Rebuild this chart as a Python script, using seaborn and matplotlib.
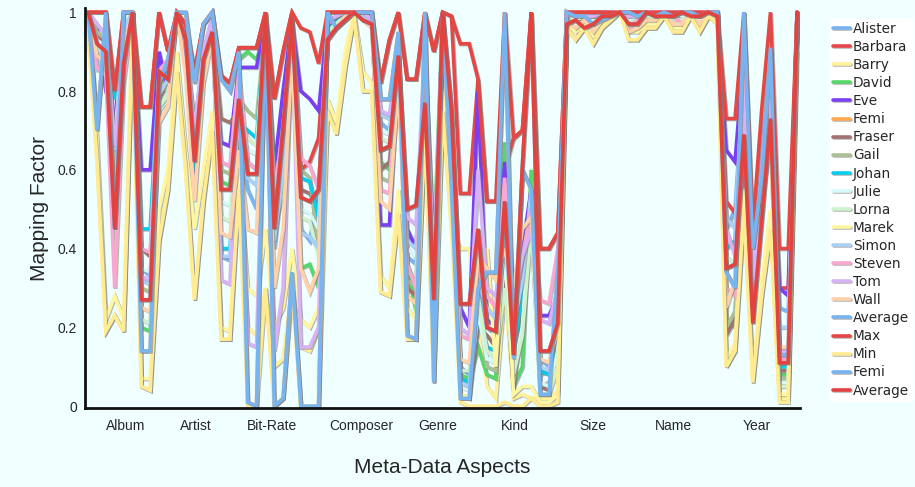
import matplotlib
matplotlib.use("Agg")
import matplotlib.pyplot as plt
import matplotlib.patheffects as pe
import numpy as np
import seaborn as sns

# groups of points along the x axis
aspects = ["Album", "Artist", "Bit-Rate", "Composer", "Genre", "Kind", "Size", "Name", "Year"]
aspect_ticks = [4.2, 12.2, 20.8, 30.8, 39.5, 48.2, 56.9, 66.1, 75.5]

# per person mapping factors (Album | Artist | Bit-Rate | Composer | Genre | Kind | Size | Name | Year)
alister = [1.0, 0.72, 0.98, 0.62, 0.95, 1.0, 0.35, 0.33, 0.80,
           0.85, 1.0, 0.90, 0.70, 0.90, 0.98, 0.38, 0.37,
           0.70, 0.55, 0.50, 0.95, 0.40, 0.60, 0.92, 0.45, 0.42, 0.55,
           0.95, 0.97, 0.99, 1.0, 0.99, 0.98, 0.72, 0.70, 0.90,
           0.38, 0.36, 0.92, 0.20, 0.98, 0.60, 0.10, 0.08,
           0.30, 0.20, 0.18, 0.40, 0.15, 0.35, 0.50, 0.12, 0.10, 0.25,
           0.99, 1.0, 0.99, 0.99, 1.0, 1.0, 1.0, 0.99, 1.0,
           1.0, 0.99, 1.0, 1.0, 0.99, 1.0, 1.0, 1.0, 1.0,
           0.45, 0.50, 0.85, 0.35, 0.60, 0.80, 0.25, 0.24, 1.0]
barbara = [1.0, 1.0, 1.0, 0.80, 1.0, 1.0, 0.76, 0.76, 1.0,
           0.90, 1.0, 0.97, 0.85, 0.97, 1.0, 0.84, 0.82,
           0.91, 0.91, 0.91, 1.0, 0.78, 0.90, 1.0, 0.60, 0.62, 0.68,
           1.0, 1.0, 1.0, 1.0, 1.0, 1.0, 0.82, 0.93, 1.0,
           0.83, 0.83, 1.0, 0.90, 1.0, 0.99, 0.54, 0.54,
           0.83, 0.52, 0.52, 0.60, 0.68, 0.70, 1.0, 0.40, 0.40, 0.44,
           1.0, 1.0, 1.0, 1.0, 1.0, 1.0, 1.0, 1.0, 1.0,
           1.0, 1.0, 1.0, 1.0, 1.0, 1.0, 1.0, 1.0, 1.0,
           0.52, 0.49, 0.62, 0.35, 0.60, 0.88, 0.30, 0.30, 1.0]
barry = [0.95, 0.62, 0.19, 0.23, 0.19, 0.95, 0.05, 0.04, 0.42,
         0.55, 0.85, 0.60, 0.27, 0.52, 0.70, 0.17, 0.17,
         0.55, 0.20, 0.18, 0.30, 0.10, 0.12, 0.30, 0.15, 0.14, 0.20,
         0.75, 0.69, 0.86, 0.99, 0.80, 0.80, 0.29, 0.28, 0.49,
         0.17, 0.17, 0.70, 0.10, 0.75, 0.45, 0.40, 0.40,
         0.25, 0.05, 0.02, 0.30, 0.02, 0.03, 0.02, 0.02, 0.02, 0.04,
         0.96, 0.93, 0.96, 0.92, 0.96, 0.98, 1.0, 0.93, 0.93,
         0.96, 0.96, 0.99, 0.95, 0.95, 0.99, 0.95, 0.99, 0.97,
         0.10, 0.14, 0.50, 0.06, 0.28, 0.45, 0.02, 0.02, 0.95]
david = [1.0, 0.90, 0.85, 0.60, 0.90, 1.0, 0.20, 0.19, 0.80,
         0.85, 1.0, 0.90, 0.58, 0.88, 0.95, 0.57, 0.56,
         0.88, 0.90, 0.88, 0.95, 0.55, 0.65, 0.90, 0.35, 0.36, 0.30,
         0.96, 0.98, 1.0, 1.0, 1.0, 0.99, 0.62, 0.60, 0.85,
         0.35, 0.24, 0.88, 0.40, 0.99, 0.70, 0.08, 0.07,
         0.15, 0.08, 0.07, 0.67, 0.05, 0.10, 0.60, 0.08, 0.09, 0.10,
         1.0, 0.99, 1.0, 0.99, 0.99, 1.0, 1.0, 0.99, 0.99,
         1.0, 1.0, 1.0, 0.99, 1.0, 1.0, 0.99, 1.0, 1.0,
         0.22, 0.20, 0.80, 0.30, 0.55, 0.75, 0.08, 0.08, 1.0]
eve = [1.0, 0.96, 0.80, 0.72, 0.95, 1.0, 0.60, 0.60, 0.90,
       0.80, 1.0, 0.92, 0.55, 0.85, 0.98, 0.67, 0.66,
       0.86, 0.86, 0.86, 0.98, 0.60, 0.80, 0.98, 0.80, 0.78, 0.75,
       0.97, 0.99, 1.0, 1.0, 1.0, 0.98, 0.46, 0.46, 0.88,
       0.45, 0.40, 0.85, 0.30, 0.99, 0.75, 0.25, 0.20,
       0.80, 0.22, 0.20, 0.62, 0.28, 0.40, 0.55, 0.23, 0.23, 0.28,
       1.0, 0.99, 0.98, 0.99, 0.99, 1.0, 1.0, 0.97, 0.98,
       0.99, 1.0, 1.0, 0.99, 1.0, 1.0, 1.0, 1.0, 0.99,
       0.65, 0.62, 0.90, 0.42, 0.70, 0.70, 0.30, 0.28, 1.0]
femi = [1.0, 0.70, 1.0, 0.45, 1.0, 1.0, 0.14, 0.14, 0.82,
        0.88, 1.0, 1.0, 0.82, 0.97, 1.0, 0.83, 0.80,
        0.90, 0.01, 0.0, 1.0, 0.0, 0.02, 0.34, 0.0, 0.0, 0.0,
        1.0, 0.96, 0.98, 1.0, 1.0, 1.0, 0.78, 0.78, 0.95,
        0.18, 0.17, 1.0, 0.06, 1.0, 0.55, 0.02, 0.02,
        0.30, 0.34, 0.34, 1.0, 0.12, 0.60, 0.55, 0.03, 0.03, 0.35,
        1.0, 0.99, 0.99, 0.97, 0.98, 0.99, 1.0, 1.0, 0.99,
        1.0, 0.99, 1.0, 0.99, 1.0, 1.0, 0.99, 1.0, 1.0,
        0.34, 0.30, 1.0, 0.40, 0.58, 0.91, 0.13, 0.13, 0.98]
fraser = [1.0, 0.94, 0.92, 0.55, 0.93, 1.0, 0.40, 0.38, 0.78,
          0.82, 1.0, 0.88, 0.66, 0.85, 0.97, 0.73, 0.72,
          0.75, 0.62, 0.60, 0.96, 0.50, 0.58, 0.94, 0.55, 0.54, 0.50,
          0.95, 0.97, 1.0, 1.0, 0.99, 0.97, 0.60, 0.62, 0.86,
          0.30, 0.28, 0.85, 0.25, 0.98, 0.62, 0.03, 0.02,
          0.20, 0.18, 0.15, 0.35, 0.04, 0.30, 0.45, 0.05, 0.04, 0.12,
          1.0, 0.98, 0.99, 0.98, 0.99, 1.0, 1.0, 0.98, 0.98,
          1.0, 0.99, 1.0, 0.99, 0.99, 1.0, 0.99, 1.0, 1.0,
          0.18, 0.22, 0.75, 0.30, 0.50, 0.72, 0.09, 0.09, 1.0]
gail = [1.0, 0.95, 0.93, 0.58, 0.90, 1.0, 0.30, 0.29, 0.82,
        0.80, 1.0, 0.86, 0.64, 0.86, 0.96, 0.60, 0.59,
        0.78, 0.75, 0.73, 0.97, 0.52, 0.62, 0.93, 0.60, 0.58, 0.40,
        0.96, 0.98, 1.0, 1.0, 0.99, 0.97, 0.58, 0.57, 0.85,
        0.32, 0.30, 0.86, 0.35, 0.98, 0.66, 0.06, 0.05,
        0.26, 0.10, 0.09, 0.45, 0.06, 0.20, 0.50, 0.05, 0.06, 0.15,
        0.99, 0.98, 0.99, 0.98, 0.99, 1.0, 1.0, 0.98, 0.99,
        0.99, 1.0, 1.0, 0.99, 0.99, 1.0, 1.0, 0.99, 1.0,
        0.20, 0.24, 0.70, 0.28, 0.52, 0.68, 0.07, 0.07, 1.0]
johan = [1.0, 0.88, 0.86, 0.78, 0.88, 1.0, 0.45, 0.45, 0.85,
         0.84, 1.0, 0.90, 0.60, 0.87, 0.96, 0.40, 0.40,
         0.72, 0.70, 0.68, 0.97, 0.58, 0.66, 0.95, 0.58, 0.57, 0.48,
         0.96, 0.98, 1.0, 1.0, 0.99, 0.96, 0.65, 0.66, 0.87,
         0.36, 0.30, 0.90, 0.28, 0.98, 0.68, 0.07, 0.06,
         0.22, 0.15, 0.14, 0.48, 0.13, 0.30, 0.48, 0.09, 0.08, 0.18,
         1.0, 0.99, 1.0, 0.99, 1.0, 1.0, 1.0, 0.99, 0.99,
         1.0, 1.0, 1.0, 1.0, 0.99, 1.0, 1.0, 1.0, 1.0,
         0.40, 0.42, 0.85, 0.32, 0.60, 0.78, 0.10, 0.10, 1.0]
julie = [1.0, 0.93, 0.91, 0.68, 0.94, 1.0, 0.35, 0.34, 0.75,
         0.78, 1.0, 0.85, 0.68, 0.84, 0.96, 0.52, 0.51,
         0.70, 0.65, 0.64, 0.96, 0.48, 0.62, 0.93, 0.50, 0.49, 0.45,
         0.95, 0.97, 0.99, 1.0, 0.98, 0.97, 0.70, 0.69, 0.86,
         0.40, 0.38, 0.88, 0.22, 0.97, 0.64, 0.05, 0.04,
         0.24, 0.12, 0.11, 0.38, 0.09, 0.20, 0.52, 0.06, 0.05, 0.14,
         0.99, 0.99, 1.0, 0.98, 0.99, 1.0, 1.0, 0.98, 0.99,
         1.0, 0.99, 1.0, 1.0, 0.99, 1.0, 1.0, 1.0, 1.0,
         0.28, 0.30, 0.72, 0.26, 0.54, 0.74, 0.06, 0.06, 1.0]
lorna = [1.0, 0.91, 0.88, 0.40, 0.89, 1.0, 0.22, 0.21, 0.76,
         0.79, 1.0, 0.86, 0.63, 0.85, 0.95, 0.48, 0.47,
         0.74, 0.68, 0.66, 0.96, 0.45, 0.55, 0.90, 0.48, 0.47, 0.38,
         0.95, 0.97, 0.99, 1.0, 0.98, 0.97, 0.68, 0.67, 0.84,
         0.34, 0.33, 0.84, 0.30, 0.97, 0.60, 0.09, 0.09,
         0.28, 0.14, 0.12, 0.30, 0.08, 0.18, 0.46, 0.03, 0.03, 0.10,
         0.99, 0.98, 0.99, 0.97, 0.99, 1.0, 1.0, 0.97, 0.98,
         0.99, 0.99, 1.0, 0.98, 0.98, 1.0, 0.99, 1.0, 0.99,
         0.38, 0.36, 0.78, 0.34, 0.58, 0.76, 0.05, 0.05, 1.0]
marek = [0.98, 0.68, 0.22, 0.28, 0.22, 0.98, 0.07, 0.07, 0.50,
         0.60, 0.90, 0.65, 0.45, 0.60, 0.75, 0.20, 0.19,
         0.60, 0.30, 0.28, 0.45, 0.20, 0.25, 0.40, 0.22, 0.20, 0.25,
         0.78, 0.72, 0.90, 1.0, 0.85, 0.82, 0.33, 0.30, 0.55,
         0.25, 0.22, 0.75, 0.15, 0.80, 0.55, 0.03, 0.02,
         0.35, 0.40, 0.10, 0.50, 0.03, 0.05, 0.05, 0.01, 0.01, 0.03,
         0.97, 0.95, 0.97, 0.94, 0.97, 0.99, 1.0, 0.95, 0.95,
         0.97, 0.97, 1.0, 0.96, 0.96, 1.0, 0.96, 1.0, 0.98,
         0.12, 0.16, 0.55, 0.08, 0.32, 0.50, 0.03, 0.03, 0.96]
simon = [1.0, 0.85, 0.95, 0.65, 0.96, 1.0, 0.32, 0.31, 0.79,
         0.83, 1.0, 0.89, 0.72, 0.88, 0.97, 0.38, 0.38,
         0.76, 0.58, 0.56, 0.97, 0.42, 0.60, 0.94, 0.44, 0.43, 0.40,
         0.97, 0.99, 1.0, 1.0, 0.99, 0.98, 0.74, 0.73, 0.88,
         0.42, 0.40, 0.90, 0.18, 0.99, 0.62, 0.06, 0.05,
         0.32, 0.25, 0.22, 0.42, 0.20, 0.32, 0.55, 0.10, 0.09, 0.22,
         1.0, 0.99, 1.0, 0.99, 1.0, 1.0, 1.0, 0.99, 1.0,
         1.0, 1.0, 1.0, 1.0, 1.0, 1.0, 1.0, 1.0, 1.0,
         0.48, 0.45, 0.88, 0.36, 0.62, 0.82, 0.20, 0.20, 1.0]
steven = [1.0, 0.86, 0.84, 0.30, 0.82, 1.0, 0.40, 0.39, 0.85,
          0.88, 1.0, 0.92, 0.62, 0.90, 0.98, 0.62, 0.61,
          0.85, 0.62, 0.60, 0.99, 0.55, 0.70, 0.97, 0.63, 0.61, 0.55,
          0.97, 0.99, 1.0, 1.0, 1.0, 0.98, 0.55, 0.54, 0.84,
          0.36, 0.30, 0.85, 0.32, 0.99, 0.68, 0.18, 0.17,
          0.35, 0.28, 0.25, 0.58, 0.24, 0.38, 0.50, 0.27, 0.26, 0.40,
          1.0, 0.99, 0.99, 0.99, 0.99, 1.0, 1.0, 0.96, 0.98,
          1.0, 1.0, 1.0, 0.99, 0.97, 1.0, 1.0, 1.0, 1.0,
          0.30, 0.28, 0.92, 0.35, 0.64, 0.80, 0.12, 0.12, 1.0]
tom = [1.0, 0.97, 0.94, 0.66, 0.92, 1.0, 0.33, 0.32, 0.84,
       0.86, 1.0, 0.94, 0.70, 0.90, 0.99, 0.32, 0.31,
       0.80, 0.16, 0.15, 0.95, 0.14, 0.30, 0.95, 0.15, 0.15, 0.20,
       0.98, 0.99, 1.0, 1.0, 1.0, 0.98, 0.75, 0.74, 0.90,
       0.48, 0.46, 0.92, 0.35, 0.99, 0.72, 0.20, 0.18,
       0.60, 0.30, 0.28, 0.45, 0.27, 0.38, 0.45, 0.22, 0.21, 0.30,
       0.99, 1.0, 0.99, 0.99, 1.0, 1.0, 1.0, 0.99, 0.99,
       1.0, 1.0, 1.0, 1.0, 1.0, 1.0, 1.0, 1.0, 1.0,
       0.45, 0.38, 0.80, 0.22, 0.70, 0.78, 0.14, 0.14, 1.0]
wall = [1.0, 0.89, 0.87, 0.50, 0.91, 1.0, 0.25, 0.24, 0.72,
        0.76, 1.0, 0.84, 0.52, 0.82, 0.94, 0.44, 0.43,
        0.65, 0.45, 0.44, 0.92, 0.30, 0.45, 0.90, 0.35, 0.29, 0.35,
        0.93, 0.96, 0.99, 1.0, 0.98, 0.96, 0.52, 0.50, 0.82,
        0.28, 0.26, 0.82, 0.20, 0.96, 0.58, 0.12, 0.11,
        0.38, 0.35, 0.32, 0.40, 0.30, 0.45, 0.48, 0.12, 0.11, 0.20,
        0.98, 0.96, 0.98, 0.95, 0.98, 0.99, 1.0, 0.95, 0.96,
        0.98, 0.98, 1.0, 0.97, 0.97, 1.0, 0.97, 1.0, 0.98,
        0.25, 0.32, 0.68, 0.40, 0.58, 0.65, 0.15, 0.15, 1.0]

# summary lines
average = [1.0, 0.92, 0.90, 0.45, 0.87, 1.0, 0.27, 0.27, 0.85,
           0.83, 1.0, 0.93, 0.62, 0.88, 0.95, 0.55, 0.55,
           0.78, 0.59, 0.59, 1.0, 0.45, 0.71, 0.98, 0.53, 0.52, 0.55,
           0.93, 0.96, 0.98, 1.0, 0.98, 0.97, 0.65, 0.66, 0.89,
           0.50, 0.51, 0.77, 0.27, 1.0, 0.75, 0.26, 0.26,
           0.45, 0.20, 0.19, 0.52, 0.13, 0.61, 1.0, 0.14, 0.14, 0.21,
           0.97, 0.98, 0.96, 0.97, 0.99, 0.99, 1.0, 0.97, 0.97,
           1.0, 0.99, 0.99, 0.99, 1.0, 0.99, 0.99, 1.0, 0.99,
           0.35, 0.36, 0.69, 0.21, 0.47, 0.73, 0.11, 0.11, 1.0]
maximum = [1.0, 1.0, 1.0, 0.80, 1.0, 1.0, 0.76, 0.76, 1.0,
           0.90, 1.0, 0.97, 0.85, 0.97, 1.0, 0.84, 0.82,
           0.91, 0.91, 0.91, 1.0, 0.78, 0.90, 1.0, 0.96, 0.95, 0.87,
           1.0, 1.0, 1.0, 1.0, 1.0, 1.0, 0.82, 0.93, 1.0,
           0.83, 0.83, 1.0, 0.90, 1.0, 0.99, 0.92, 0.92,
           0.83, 0.52, 0.52, 1.0, 0.68, 0.70, 1.0, 0.40, 0.40, 0.44,
           1.0, 1.0, 1.0, 1.0, 1.0, 1.0, 1.0, 1.0, 1.0,
           1.0, 1.0, 1.0, 1.0, 1.0, 1.0, 1.0, 1.0, 1.0,
           0.73, 0.73, 1.0, 0.45, 0.75, 1.0, 0.40, 0.40, 1.0]
minimum = [0.95, 0.62, 0.19, 0.23, 0.19, 0.95, 0.05, 0.04, 0.42,
           0.55, 0.85, 0.60, 0.27, 0.52, 0.70, 0.17, 0.17,
           0.55, 0.0, 0.0, 0.30, 0.0, 0.02, 0.30, 0.0, 0.0, 0.0,
           0.75, 0.69, 0.86, 0.99, 0.80, 0.80, 0.29, 0.28, 0.49,
           0.17, 0.17, 0.70, 0.06, 0.75, 0.45, 0.01, 0.0,
           0.0, 0.0, 0.0, 0.01, 0.0, 0.0, 0.02, 0.0, 0.0, 0.01,
           0.96, 0.93, 0.96, 0.92, 0.96, 0.98, 1.0, 0.93, 0.93,
           0.96, 0.96, 0.99, 0.95, 0.95, 0.99, 0.95, 0.99, 0.97,
           0.10, 0.14, 0.50, 0.06, 0.28, 0.45, 0.01, 0.01, 0.90]

series = [
    ("Alister", alister, "#7ab4ee"),
    ("Barbara", barbara, "#e5484a"),
    ("Barry", barry, "#fff09a"),
    ("David", david, "#55d86a"),
    ("Eve", eve, "#7a3ff2"),
    ("Femi", femi, "#ffaa4e"),
    ("Fraser", fraser, "#a27272"),
    ("Gail", gail, "#a9c094"),
    ("Johan", johan, "#06cdec"),
    ("Julie", julie, "#d6fafa"),
    ("Lorna", lorna, "#cdf2cd"),
    ("Marek", marek, "#fff6a2"),
    ("Simon", simon, "#a9d0f6"),
    ("Steven", steven, "#f8a8d0"),
    ("Tom", tom, "#d8b2f6"),
    ("Wall", wall, "#ffd2aa"),
    ("Average", average, "#78b4f0"),
    ("Max", maximum, "#e34845"),
    ("Min", minimum, "#ffeb92"),
    ("Femi", femi, "#78b4f0"),
    ("Average", average, "#e2433f"),
]

bg = "#f0ffff"
sns.set_style("white")
plt.rcParams["font.family"] = ["Liberation Sans", "DejaVu Sans"]

fig = plt.figure(figsize=(9.15, 4.87), dpi=100, facecolor=bg)
ax = fig.add_axes([0.093, 0.162, 0.781, 0.821], facecolor=bg)

shadow = [pe.SimpleLineShadow(offset=(0.7, -0.7), shadow_color="#7a7a7a", alpha=0.55), pe.Normal()]
x = np.arange(len(average))
for name, vals, col in series:
    sns.lineplot(x=x, y=vals, ax=ax, color=col, lw=2.6, label=name,
                 path_effects=shadow, solid_joinstyle="miter")

ax.set_xlim(-0.34, 80.3)
ax.set_ylim(-0.005, 1.01)
ax.set_yticks([0, 0.2, 0.4, 0.6, 0.8, 1.0])
ax.set_yticklabels(["0", "0.2", "0.4", "0.6", "0.8", "1"])
ax.set_xticks(aspect_ticks)
ax.set_xticklabels(aspects, fontsize=9, family=["Liberation Sans Narrow", "Liberation Sans"])
ax.tick_params(axis="both", length=0, pad=6, labelsize=10)
ax.tick_params(axis="x", pad=8)
for side in ["top", "right"]:
    ax.spines[side].set_visible(False)
for side in ["left", "bottom"]:
    ax.spines[side].set_linewidth(2)
    ax.spines[side].set_color("#111111")

ax.set_ylabel("Mapping Factor", fontsize=15, labelpad=6)
ax.set_xlabel("Meta-Data Aspects", fontsize=15, labelpad=18)

leg = ax.legend(loc="upper left", bbox_to_anchor=(0.907, 0.962), bbox_transform=fig.transFigure,
                frameon=True, facecolor="white", edgecolor="white", framealpha=1, fancybox=False,
                handlelength=1.2, handletextpad=0.25, labelspacing=0.3,
                borderpad=0.25, borderaxespad=0, prop={"family": "DejaVu Sans", "size": 9.8})

fig.savefig("out.png", dpi=100, facecolor=bg)
